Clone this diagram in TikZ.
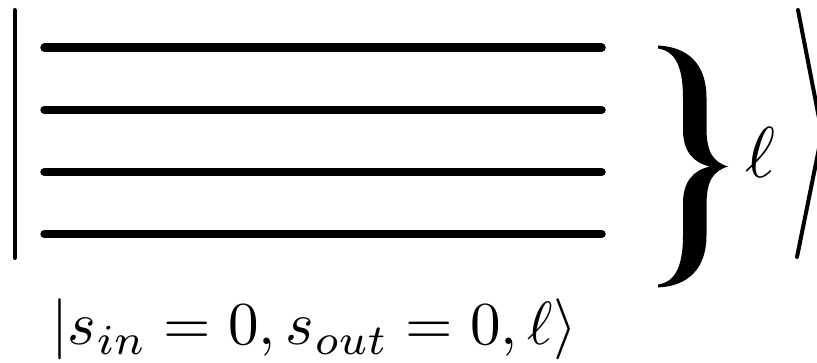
\documentclass[tikz,border=0pt]{standalone}
\usepackage{graphicx}
\tikzset{
  stroke/.style={line width=4pt, line cap=round, line join=round},
  level/.style={line width=8.5pt, line cap=round},
  bracefill/.style={fill=black, draw=none},
  txt/.style={inner sep=0pt, outer sep=0pt}
}
\begin{document}
\begin{tikzpicture}[x=1pt, y=-1pt]
\useasboundingbox (0,0) rectangle (817,363);
% left bar of the ket
\coordinate (barT) at (14.7,10);
\coordinate (barB) at (14.7,258);
\draw[stroke] (barT) -- (barB);
% four levels
\foreach \i/\y in {1/47.7,2/110,3/172,4/234}{
  \coordinate (l\i a) at (44.5,\y);
  \coordinate (l\i b) at (601.5,\y);
  \draw[level] (l\i a) -- (l\i b);
}
% brace (filled outline)
\coordinate (tip) at (728,166.5);
\fill[bracefill] (tip)
  .. controls (713,162) and (706.5,152) .. (706.5,128)
  -- (706.5,98)
  .. controls (706.5,64) and (688,47) .. (658,45.5)
  -- (658,48.5)
  .. controls (676,51) and (683,68) .. (683,98)
  -- (683,130)
  .. controls (683,152) and (694,163) .. (710,166.5)
  .. controls (694,170) and (683,181) .. (683,203)
  -- (683,235)
  .. controls (683,265) and (676,282) .. (658,284.5)
  -- (658,287.5)
  .. controls (688,286) and (706.5,269) .. (706.5,235)
  -- (706.5,205)
  .. controls (706.5,181) and (713,171) .. (tip) -- cycle;
% ell
\node[txt, anchor=base west] (ell) at (745,178)
  {\scalebox{7.2}{$\ell$}};
% right angle bracket
\coordinate (angT) at (798,10);
\coordinate (angM) at (822,133.5);
\coordinate (angB) at (797,257);
\draw[stroke] (angT) -- (angM) -- (angB);
% caption
\node[txt, anchor=base west] (ket) at (51,345)
  {\scalebox{6.1}{$|s_{in}=0,s_{out}=0,\ell\rangle$}};
\end{tikzpicture}
\end{document}
